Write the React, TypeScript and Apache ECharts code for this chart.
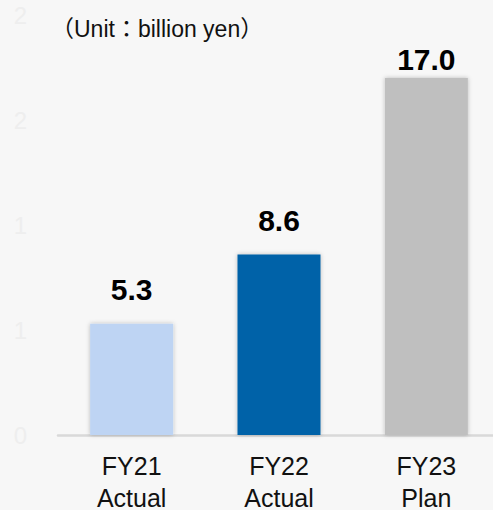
import React, { useEffect, useRef } from "react";
import * as echarts from "echarts";

const categories = ["FY21\nActual", "FY22\nActual", "FY23\nPlan"];
const values = [5.3, 8.6, 17.0];
const tickLabels = ["0", "1", "1", "2", "2"];
const unitText = "（Unit：billion yen）";

const barColors = ["#bed4f3", "#0562a8", "#bfbfbf"];

export default function App() {
  const ref = useRef<HTMLDivElement>(null);
  useEffect(() => {
    if (!ref.current) return;
    const chart = echarts.init(ref.current, null, { renderer: "svg" });
    const font = '"Liberation Sans", Arial, "Noto Sans CJK JP", sans-serif';
    chart.setOption({
      animation: false,
      backgroundColor: "#f7f7f7",
      grid: {
        left: 58,
        top: 15,
        width: 442,
        height: 420,
        outerBoundsMode: "none",
        containLabel: false,
      },
      xAxis: {
        type: "category",
        data: categories,
        axisLine: { show: true, lineStyle: { color: "#d9d9d9", width: 2.5 } },
        axisTick: { show: false },
        axisLabel: {
          color: "#111111",
          fontSize: 25,
          fontFamily: font,
          lineHeight: 32,
          margin: 15,
        },
      },
      yAxis: {
        type: "value",
        min: 0,
        max: 20,
        interval: 5,
        splitLine: { show: false },
        axisLine: { show: false },
        axisTick: { show: false },
        axisLabel: {
          color: "#eeeeee",
          fontSize: 24,
          fontFamily: font,
          margin: 31,
          formatter: (_v: number, i: number) => tickLabels[i] ?? "",
        },
      },
      graphic: [
        {
          type: "text",
          left: 51,
          top: 17,
          style: {
            text: unitText,
            fontSize: 23,
            fontFamily: font,
            fill: "#111111",
          },
        },
      ],
      series: [
        {
          type: "bar",
          barWidth: 83,
          data: values.map((v, i) => ({
            value: v,
            itemStyle: { color: barColors[i] },
            label: { distance: i === values.length - 1 ? 4 : 19 },
          })),
          itemStyle: {
            shadowBlur: 4,
            shadowColor: "rgba(0,0,0,0.25)",
          },
          label: {
            show: true,
            position: "top",
            fontSize: 30,
            fontWeight: "bold",
            fontFamily: font,
            color: "#000000",
            formatter: (p: any) => Number(p.value).toFixed(1),
          },
        },
      ],
    });
    return () => chart.dispose();
  }, []);
  return (
    <div
      ref={ref}
      style={{ position: "absolute", left: 0, top: 0, width: 493, height: 510 }}
    />
  );
}
